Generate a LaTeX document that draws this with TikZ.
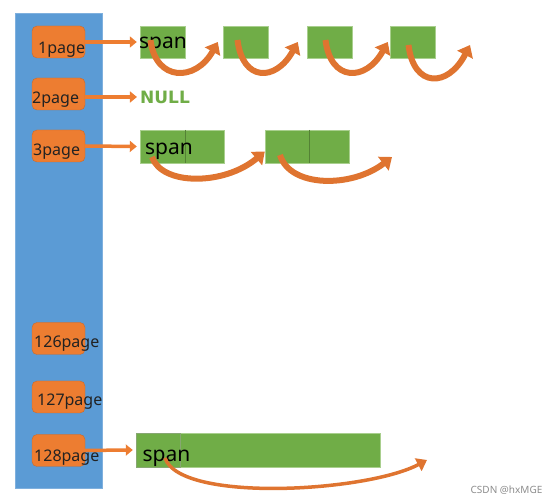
\documentclass[tikz,border=0pt]{standalone}
\usepackage{fontspec}
\setmainfont{Noto Sans}
\newfontfamily\wordfont{DejaVu Sans}
\usetikzlibrary{arrows.meta}
\definecolor{barBlue}{HTML}{5B9BD5}
\definecolor{barEdge}{HTML}{7FB0DE}
\definecolor{pageFill}{HTML}{ED7D31}
\definecolor{pageEdge}{HTML}{C86A2C}
\definecolor{spanFill}{HTML}{70AD47}
\definecolor{spanEdge}{HTML}{A9CF8E}
\definecolor{spanDark}{HTML}{548235}
\definecolor{bendOrange}{HTML}{DF7430}
\definecolor{textDark}{HTML}{222222}
\tikzset{
  pagebox/.style={draw=pageEdge, fill=pageFill, rounded corners=5pt, minimum width=53pt, minimum height=32pt, inner sep=0pt},
  pagetext/.style={anchor=west, inner sep=0pt, text=textDark, font=\fontsize{16}{16}\selectfont},
  spanbox/.style={draw=spanEdge, fill=spanFill, inner sep=0pt},
  spantext/.style={inner sep=0pt, font=\fontsize{21}{21}\selectfont},
  pagearrow/.style={pageFill, line width=3.5pt, -{Triangle[width=11pt,length=7pt]}},
  bendarrow/.style={bendOrange, line width=6pt, -{Triangle[width=17pt,length=11pt]}},
  divider/.style={spanDark, line width=0.6pt}
}
\begin{document}
\begin{tikzpicture}[x=1pt,y=1pt]
\useasboundingbox (0,0) rectangle (558,504);
\node[draw=barEdge, fill=barBlue, minimum width=87pt, minimum height=475pt, inner sep=0pt] (bar) at (58.5,253.5) {};

% free lists, one box per size
\foreach \n/\y/\tx/\ty in {1/462/38/454, 2/410/32/404, 3/358/33/352, 126/165.5/34/160, 127/107/37/102, 128/53.5/34/46}
{
    \node[pagebox] (p\n) at (58.5,\y) {};
    \node[pagetext] (t\n) at (\tx,\ty) {\n page};
}

% 1page: single spans
\foreach \i/\x in {1/162.5, 2/245.5, 3/329.5, 4/412.5}
{
    \node[spanbox, minimum width=45pt, minimum height=32pt] (r1s\i) at (\x,462) {};
}
\node[spantext] (r1l) at (163,458.5) {span};
\draw[pagearrow] (p1.east) -- ([xshift=-3]r1s1.west);
\foreach \a/\b/\d/\e in {1/2/-12/-5, 2/3/-8/-9, 3/4/-4/-2}
{
    \draw[bendarrow] ([shift={(\d,2)}]r1s\a.center) .. controls +(5,-42) and +(-22,-40) .. ([xshift=\e]r1s\b.west);
}
\coordinate (r1end) at (470,459);
\draw[bendarrow] ([shift={(-4,-3)}]r1s4.center) .. controls +(5,-43) and +(-22,-43) .. (r1end);

% 2page: empty
\node[inner sep=0pt, text=spanFill, font=\wordfont\bfseries\fontsize{17}{17}\selectfont] (null) at (165,407) {NULL};
\draw[pagearrow] (p2.east |- null.west) -- ([xshift=-3]null.west);

% 3page: spans of two pages
\foreach \i/\x/\w in {1/162.5/45, 2/204.5/39, 3/287/44, 4/329/40}
{
    \node[spanbox, minimum width=\w pt, minimum height=33pt] (r3s\i) at (\x,357.5) {};
}
\draw[divider] (r3s1.north east) -- (r3s1.south east);
\draw[divider] (r3s3.north east) -- (r3s3.south east);
\node[spantext] (r3l) at (169,352.5) {span};
\draw[pagearrow] (p3.east) -- ([xshift=-3]r3s1.west);
\draw[bendarrow] ([shift={(-10.5,-10.5)}]r3s1.center) .. controls +(10,-29) and +(-40,-34) .. ([yshift=-5]r3s3.west);
\coordinate (r3end) at (392,347);
\draw[bendarrow] ([shift={(-7,-8.5)}]r3s3.center) .. controls +(10,-33) and +(-40,-31) .. (r3end);

% 128page: one big span
\node[spanbox, minimum width=244pt, minimum height=34pt] (r128) at (258,54) {};
\node[draw=spanDark!70, line width=0.4pt, minimum width=44pt, minimum height=34pt, inner sep=0pt] (r128s1) at (158,54) {};
\node[spantext] (r128l) at (166.5,46) {span};
\draw[pagearrow] ([xshift=-5]p128.east) -- ([xshift=-3]r128.west);
\coordinate (r128end) at (427,44);
\draw[bendarrow, line width=3.5pt, -{Triangle[width=14pt,length=10pt]}] ([shift={(7,-8)}]r128s1.center) .. controls +(15,-45) and +(-60,-32) .. (r128end);

\node[inner sep=0pt, text=black!45, font=\fontsize{10}{10}\selectfont] (mark) at (506.5,14) {CSDN @hxMGE};
\end{tikzpicture}
\end{document}
